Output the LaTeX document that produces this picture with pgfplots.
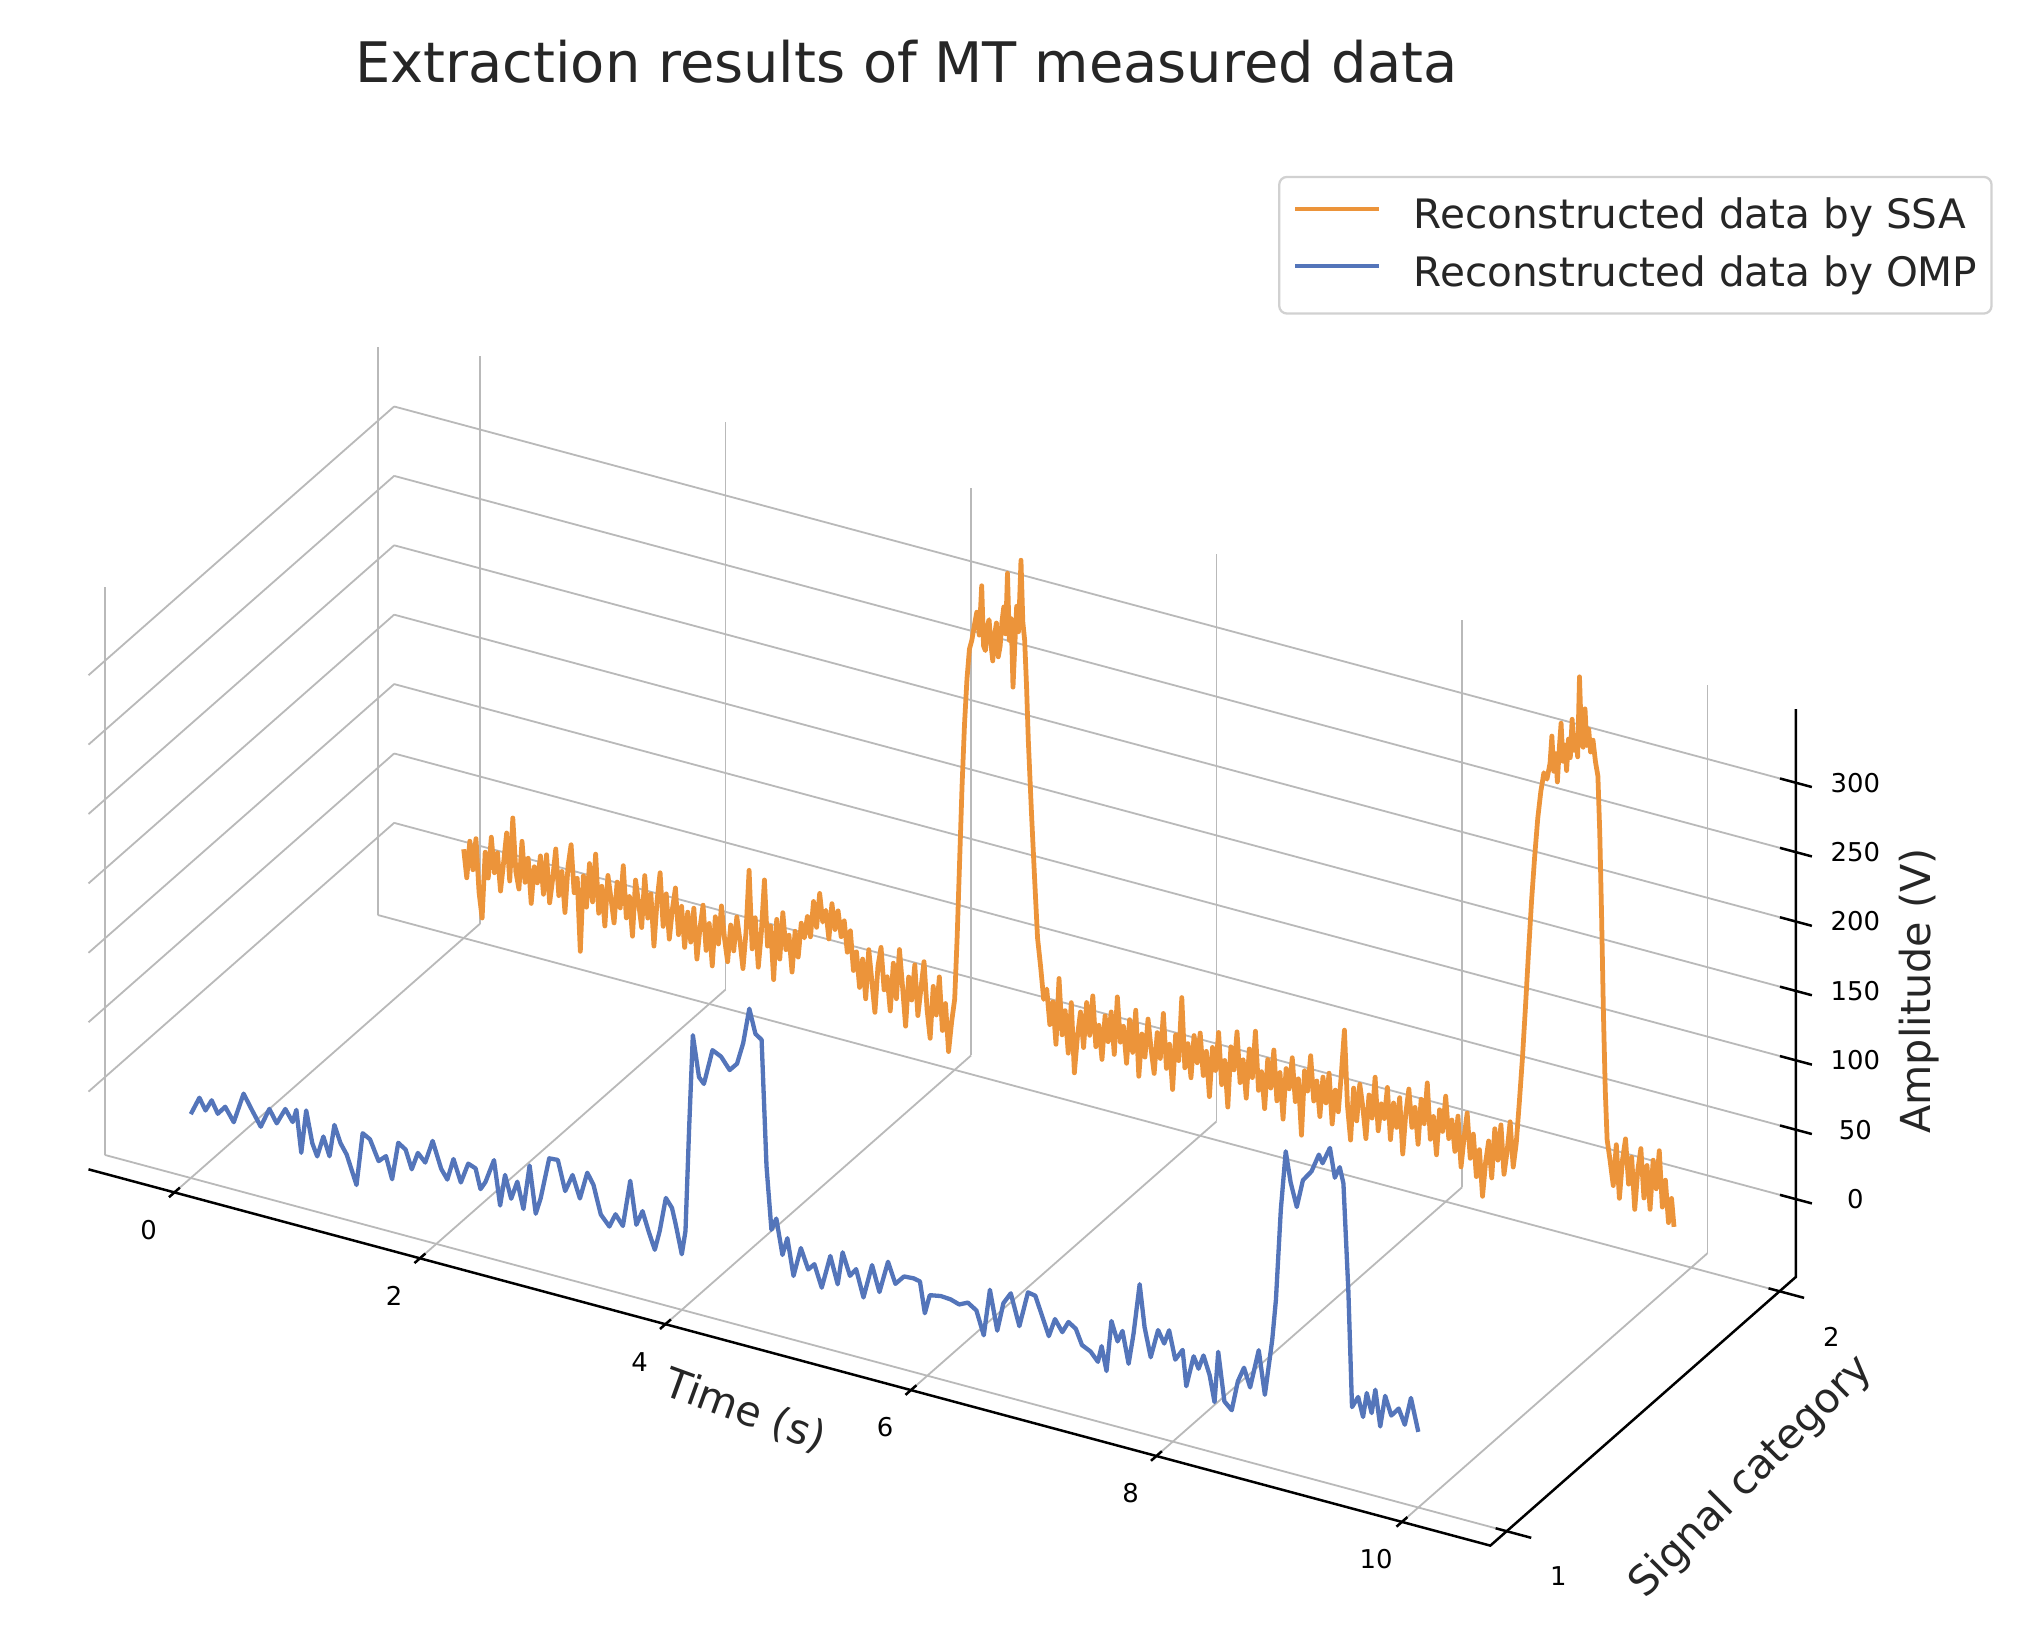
\documentclass[border=0pt]{standalone}
\usepackage{fontspec}
\setmainfont{DejaVu Sans}
\usepackage{pgfplots}
\pgfplotsset{compat=1.18}
\usetikzlibrary{calc}
\definecolor{ssaorange}{RGB}{236,148,58}
\definecolor{ompblue}{RGB}{84,117,186}
\begin{document}
\begin{tikzpicture}
\begin{axis}[
  x={(0.950cm,-0.255cm)}, y={(2.112cm,1.857cm)}, z={(0cm,0.01074cm)},
  xmin=-0.7, xmax=10.72, ymin=0.94, ymax=2.06, zmin=-56, zmax=353,
  clip=false,
  axis line style={draw=none},
  grid=major,
  grid style={gray!55, line width=0.4pt},
  major tick length=0pt,
  xtick={0,2,4,6,8,10}, ytick={1,2}, ztick={0,50,100,150,200,250,300},
  zticklabel pos=right,
  /pgf/number format/assume math mode=true,
  xticklabel style={font=\fontsize{5.7}{7}\selectfont, anchor=center, xshift=-0.20cm, yshift=-0.29cm},
  yticklabel style={font=\fontsize{5.7}{7}\selectfont, anchor=center, xshift=0.40cm, yshift=-0.35cm},
  zticklabel style={font=\fontsize{5.7}{7}\selectfont, anchor=center, xshift=0.46cm, yshift=0cm},
  legend style={at={(rel axis cs:1,1.6437,1.6349)}, anchor=north east,
    draw=black!18, line width=0.5pt, rounded corners=0.06cm, fill=white,
    font=\fontsize{8.93}{10}\selectfont, text=black!85,
    inner xsep=0.11cm, inner ysep=0.16cm, row sep=0.155cm,
    nodes={inner sep=0pt},
    /tikz/every odd column/.append style={column sep=0.25cm}},
  legend cell align=left,
  legend image code/.code={\draw[#1, line width=0.9pt] (0cm,0.06cm) -- (0.65cm,0.06cm);},
]
\addplot3[ssaorange, line width=1.05pt, line join=round, mark=none] coordinates {
(0.000,2,8) (0.025,2,-12) (0.050,2,15) (0.075,2,-5) (0.100,2,18) (0.125,2,-20) (0.150,2,-38) (0.175,2,10) (0.200,2,-8) (0.225,2,22)
(0.250,2,-3) (0.275,2,12) (0.300,2,-15) (0.325,2,6) (0.350,2,28) (0.375,2,-6) (0.400,2,40) (0.425,2,2) (0.450,2,-10) (0.475,2,25)
(0.500,2,-4) (0.525,2,14) (0.550,2,-18) (0.575,2,9) (0.600,2,-2)
(0.625,2,18) (0.650,2,-9) (0.675,2,20) (0.700,2,-14) (0.725,2,4) (0.750,2,26) (0.775,2,-7) (0.800,2,11) (0.825,2,-18) (0.850,2,16)
(0.875,2,32) (0.900,2,-2) (0.925,2,9) (0.950,2,-43) (0.975,2,12) (1.000,2,-10) (1.025,2,22) (1.050,2,-5) (1.075,2,30) (1.100,2,-12)
(1.125,2,8) (1.150,2,-20) (1.175,2,17) (1.200,2,1)
(1.225,2,-16) (1.250,2,14) (1.275,2,-4) (1.300,2,27) (1.325,2,-10) (1.350,2,6) (1.375,2,-22) (1.400,2,19) (1.425,2,3) (1.450,2,-14)
(1.475,2,24) (1.500,2,-6) (1.525,2,12) (1.550,2,-25) (1.575,2,8) (1.600,2,29) (1.625,2,-9) (1.650,2,15) (1.675,2,-17) (1.700,2,5)
(1.725,2,21) (1.750,2,-12) (1.775,2,9) (1.800,2,-20)
(1.825,2,6) (1.850,2,-15) (1.875,2,10) (1.900,2,-26) (1.925,2,-3) (1.950,2,14) (1.975,2,-18) (2.000,2,2) (2.025,2,-28) (2.050,2,8)
(2.075,2,-11) (2.100,2,17) (2.125,2,-6) (2.150,2,-22) (2.175,2,5) (2.200,2,-13) (2.225,2,12) (2.250,2,-4) (2.275,2,-24) (2.300,2,3)
(2.325,2,48) (2.350,2,-8) (2.375,2,15) (2.400,2,-20) (2.425,2,6) (2.450,2,44) (2.475,2,-3) (2.500,2,12) (2.525,2,-26) (2.550,2,18)
(2.575,2,-10) (2.600,2,24) (2.625,2,-2) (2.650,2,9) (2.675,2,-17) (2.700,2,13) (2.725,2,-5) (2.750,2,20)
(2.775,2,10) (2.800,2,26) (2.825,2,12) (2.850,2,38) (2.875,2,20) (2.900,2,45) (2.925,2,25) (2.950,2,34) (2.975,2,14) (3.000,2,40)
(3.025,2,22) (3.050,2,36) (3.075,2,18) (3.100,2,30) (3.125,2,8) (3.150,2,24) (3.175,2,-4)
(3.200,2,10) (3.225,2,-15) (3.250,2,6) (3.275,2,-22) (3.300,2,14) (3.325,2,-8) (3.350,2,-30) (3.375,2,4) (3.400,2,18) (3.425,2,-12)
(3.450,2,-2) (3.475,2,-26) (3.500,2,9) (3.525,2,-16) (3.550,2,20) (3.575,2,-6) (3.600,2,-34) (3.625,2,2) (3.650,2,-14) (3.675,2,12)
(3.700,2,-24) (3.725,2,-4) (3.750,2,16) (3.775,2,-18) (3.800,2,-38) (3.825,2,0) (3.850,2,-20) (3.875,2,8) (3.900,2,-30) (3.925,2,-10)
(3.950,2,-44) (3.975,2,-22)
(4.000,2,-5) (4.020,2,40) (4.040,2,95) (4.060,2,150) (4.080,2,195) (4.100,2,228) (4.120,2,250)
(4.140,2,257) (4.160,2,268) (4.180,2,278) (4.200,2,262) (4.220,2,298) (4.235,2,255) (4.250,2,252) (4.265,2,270) (4.280,2,275) (4.295,2,258)
(4.310,2,246) (4.325,2,265) (4.340,2,274) (4.355,2,250) (4.370,2,258) (4.385,2,276) (4.400,2,287) (4.415,2,268) (4.430,2,312) (4.445,2,264)
(4.460,2,280) (4.475,2,231) (4.490,2,262) (4.505,2,290) (4.520,2,272) (4.540,2,324) (4.555,2,280) (4.570,2,267) (4.585,2,235)
(4.600,2,195) (4.625,2,145) (4.650,2,99) (4.675,2,55) (4.700,2,35) (4.725,2,12)
(4.750,2,20) (4.775,2,-5) (4.800,2,12) (4.825,2,-18) (4.850,2,30) (4.875,2,-10) (4.900,2,8) (4.925,2,-22) (4.950,2,15) (4.975,2,-35)
(5.000,2,-8) (5.025,2,10) (5.050,2,-15) (5.075,2,18) (5.100,2,-5) (5.125,2,24) (5.150,2,-12) (5.175,2,4) (5.200,2,-20) (5.225,2,12)
(5.250,2,-6) (5.275,2,16) (5.300,2,-14) (5.325,2,28) (5.350,2,-4) (5.375,2,8) (5.400,2,-18) (5.425,2,14) (5.450,2,-9) (5.475,2,22)
(5.500,2,-25) (5.525,2,6) (5.550,2,-10) (5.575,2,18) (5.600,2,-3) (5.625,2,-20) (5.650,2,10) (5.675,2,-8) (5.700,2,25) (5.725,2,-14)
(5.750,2,4) (5.775,2,-28) (5.800,2,12) (5.825,2,-6) (5.850,2,40) (5.875,2,-10) (5.900,2,8) (5.925,2,-16) (5.950,2,15)
(5.975,2,-4) (6.000,2,18) (6.025,2,-12) (6.050,2,6) (6.075,2,-26) (6.100,2,10) (6.125,2,-6) (6.150,2,22) (6.175,2,-15) (6.200,2,3)
(6.225,2,-30) (6.250,2,14) (6.275,2,-2) (6.300,2,26) (6.325,2,-10) (6.350,2,7) (6.375,2,-20) (6.400,2,16) (6.425,2,-4) (6.450,2,30)
(6.475,2,-12) (6.500,2,2) (6.525,2,-24) (6.550,2,12) (6.575,2,-8) (6.600,2,20) (6.625,2,-16) (6.650,2,5) (6.675,2,-28) (6.700,2,9)
(6.725,2,-5) (6.750,2,18) (6.775,2,-13) (6.800,2,4) (6.825,2,-36) (6.850,2,11) (6.875,2,-3) (6.900,2,23) (6.925,2,-9) (6.950,2,6)
(6.975,2,-19)
(7.000,2,10) (7.025,2,-8) (7.050,2,14) (7.075,2,-22) (7.100,2,3) (7.125,2,-12) (7.150,2,16) (7.175,2,48) (7.200,2,-6) (7.225,2,-30)
(7.250,2,8) (7.275,2,-15) (7.300,2,12) (7.325,2,-4) (7.350,2,-26) (7.375,2,6) (7.400,2,-10) (7.425,2,20) (7.450,2,-18) (7.475,2,2)
(7.500,2,-8) (7.525,2,15) (7.550,2,-22) (7.575,2,5) (7.600,2,-12) (7.625,2,10) (7.650,2,-30) (7.675,2,0) (7.700,2,18) (7.725,2,-9)
(7.750,2,6) (7.775,2,-20) (7.800,2,13) (7.825,2,-4) (7.850,2,26) (7.875,2,-14) (7.900,2,3) (7.925,2,-24) (7.950,2,9) (7.975,2,-6)
(8.000,2,20) (8.025,2,-10) (8.050,2,4) (8.075,2,-18) (8.100,2,8) (8.125,2,-28) (8.150,2,-6) (8.175,2,12) (8.200,2,-20) (8.225,2,-2)
(8.250,2,-32) (8.275,2,-12) (8.300,2,-45) (8.325,2,-20) (8.350,2,-4) (8.375,2,-30) (8.400,2,6) (8.425,2,-16) (8.450,2,10) (8.475,2,-25)
(8.500,2,-8) (8.525,2,14) (8.550,2,-18)
(8.575,2,0) (8.600,2,30) (8.625,2,62) (8.650,2,100) (8.675,2,140) (8.700,2,178) (8.725,2,210) (8.750,2,238) (8.775,2,258) (8.800,2,272)
(8.825,2,268)
(8.850,2,280) (8.865,2,300) (8.880,2,275) (8.895,2,288) (8.910,2,268) (8.925,2,292) (8.940,2,311) (8.955,2,284) (8.970,2,296) (8.985,2,278)
(9.000,2,301) (9.015,2,288) (9.030,2,316) (9.045,2,294) (9.060,2,305) (9.075,2,290) (9.090,2,348) (9.105,2,306) (9.120,2,298) (9.135,2,326)
(9.150,2,300) (9.165,2,312) (9.180,2,296) (9.200,2,305) (9.220,2,290) (9.240,2,280)
(9.255,2,240) (9.270,2,180) (9.285,2,110) (9.300,2,55) (9.315,2,20)
(9.340,2,5) (9.365,2,-12) (9.390,2,18) (9.415,2,-20) (9.440,2,8) (9.465,2,24) (9.490,2,-8) (9.515,2,12) (9.540,2,-25) (9.565,2,4)
(9.590,2,20) (9.615,2,-15) (9.640,2,9) (9.665,2,-22) (9.690,2,14) (9.715,2,-6) (9.740,2,22) (9.765,2,-18) (9.790,2,2) (9.815,2,-28)
(9.840,2,-10) (9.860,2,-30)
};
\addlegendentry{Reconstructed data by SSA}
\addplot3[ompblue, line width=0.95pt, line join=round, mark=none] coordinates {
(0.00,1,-10) (0.07,1,3.5) (0.12,1,-4.5) (0.17,1,4) (0.22,1,-4.5) (0.28,1,2) (0.35,1,-7.5) (0.43,1,15) (0.50,1,4.5) (0.57,1,-5.5)
(0.64,1,9) (0.70,1,0) (0.77,1,12) (0.83,1,4) (0.86,1,13.5) (0.90,1,-16.5) (0.94,1,15) (0.99,1,-7.5) (1.03,1,-16) (1.08,1,-0.5)
(1.13,1,-13.5) (1.17,1,10) (1.22,1,-2) (1.27,1,-9) (1.35,1,-29) (1.40,1,9.5) (1.46,1,6.5) (1.53,1,-7.5) (1.59,1,-2.5) (1.64,1,-18)
(1.69,1,9.5) (1.75,1,6) (1.80,1,-7) (1.85,1,6) (1.91,1,0.5) (1.97,1,17.5) (2.04,1,-1) (2.09,1,-7.5) (2.14,1,8.5) (2.20,1,-7)
(2.26,1,8) (2.32,1,6) (2.36,1,-8) (2.40,1,-2) (2.47,1,15.5) (2.52,1,-16) (2.56,1,7) (2.61,1,-9) (2.66,1,4.5) (2.71,1,-14)
(2.76,1,18.5) (2.81,1,-15) (2.85,1,-3) (2.92,1,27.5) (2.99,1,28) (3.05,1,7) (3.11,1,20) (3.17,1,4.5) (3.23,1,24.5) (3.28,1,17)
(3.34,1,-3) (3.41,1,-10) (3.46,1,0) (3.52,1,-7) (3.58,1,27) (3.63,1,-3.5) (3.68,1,7.5) (3.73,1,-6) (3.78,1,-18) (3.82,1,-3.5)
(3.87,1,21.5) (3.92,1,15.5) (3.95,1,4.5) (4.00,1,-16) (4.03,1,1.5) (4.06,1,77) (4.09,1,144) (4.14,1,115) (4.18,1,111) (4.25,1,137)
(4.32,1,134) (4.39,1,126) (4.45,1,132) (4.50,1,148) (4.55,1,174) (4.60,1,157) (4.65,1,154) (4.69,1,64) (4.73,1,19) (4.77,1,28)
(4.82,1,3) (4.86,1,16) (4.91,1,-10) (4.97,1,11.5) (5.03,1,-2.5) (5.08,1,2.5) (5.14,1,-13) (5.21,1,11.5) (5.27,1,-7.5) (5.31,1,16.5)
(5.37,1,1) (5.42,1,7) (5.48,1,-12) (5.55,1,13) (5.61,1,-5) (5.68,1,18.5) (5.74,1,4) (5.81,1,11) (5.89,1,11.5) (5.94,1,10.5)
(5.98,1,-11.5) (6.02,1,2.5) (6.11,1,4) (6.19,1,3.5) (6.26,1,1.5) (6.33,1,4.5) (6.40,1,0.5) (6.46,1,-16) (6.51,1,18) (6.57,1,-10)
(6.62,1,11) (6.68,1,19.5) (6.75,1,-2.5) (6.82,1,23.5) (6.88,1,22.5) (6.93,1,10.5) (6.99,1,-4) (7.04,1,9.5) (7.10,1,1.5) (7.15,1,10)
(7.21,1,6.5) (7.26,1,-4) (7.33,1,-7) (7.39,1,-13) (7.42,1,-1) (7.46,1,-18) (7.50,1,19) (7.55,1,5.5) (7.59,1,14) (7.64,1,-8.5)
(7.68,1,14) (7.73,1,51) (7.77,1,21) (7.82,1,0.5) (7.88,1,21.5) (7.93,1,13) (7.97,1,23.5) (8.02,1,3.5) (8.08,1,12) (8.11,1,-13.5)
(8.17,1,9.5) (8.21,1,1.5) (8.25,1,12) (8.30,1,-1) (8.34,1,-19.5) (8.37,1,17.5) (8.42,1,-17) (8.48,1,-22) (8.53,1,0) (8.58,1,11)
(8.63,1,-2) (8.70,1,26.5) (8.75,1,-4.5) (8.81,1,36.5) (8.84,1,66) (8.88,1,132) (8.92,1,175) (8.96,1,153.5) (9.01,1,137) (9.06,1,157.5)
(9.13,1,165.5) (9.19,1,179) (9.22,1,173.5) (9.28,1,186) (9.32,1,165.5) (9.36,1,174) (9.39,1,163) (9.43,1,87) (9.46,1,3.5) (9.51,1,12)
(9.55,1,-1.5) (9.58,1,16.5) (9.62,1,3) (9.65,1,20.5) (9.69,1,-5) (9.73,1,18) (9.78,1,5) (9.84,1,11.5) (9.89,1,1) (9.94,1,21.5)
(10.00,1,-1.5)
};
\addlegendentry{Reconstructed data by OMP}
% axis lines
\draw[black, line width=0.55pt] (axis cs:-0.7,0.94,-56) -- (axis cs:10.72,0.94,-56) -- (axis cs:10.72,2.06,-56) -- (axis cs:10.72,2.06,353);
% tick marks
\pgfplotsinvokeforeach{0,2,4,6,8,10}{\draw[black, line width=0.55pt] (axis cs:#1,0.92,-56) -- (axis cs:#1,0.96,-56);}
\pgfplotsinvokeforeach{1,2}{\draw[black, line width=0.55pt] (axis cs:10.63,#1,-56) -- (axis cs:10.92,#1,-56);}
\pgfplotsinvokeforeach{0,50,100,150,200,250,300}{\draw[black, line width=0.55pt] (axis cs:10.59,2.06,#1) -- (axis cs:10.85,2.06,#1);}
% axis labels
\node[xshift=0.14cm, yshift=-0.544cm, rotate=-20, font=\fontsize{9.1}{11}\selectfont, text=black!85] at (axis cs:4.5,0.94,-56) {Time (s)};
\node[xshift=0.838cm, yshift=-0.508cm, rotate=45, font=\fontsize{9.1}{11}\selectfont, text=black!85] at (axis cs:10.72,1.5,-56) {Signal category};
\node[xshift=0.951cm, rotate=90, font=\fontsize{9.1}{11}\selectfont, text=black!85] at (axis cs:10.72,2.06,150) {Amplitude (V)};
\coordinate (O) at (axis cs:-0.7,0.94,-56);
\end{axis}
\node[anchor=base, font=\fontsize{12.3}{14}\selectfont, text=black!85] at ($(O)+(6.33cm,8.41cm)$) {Extraction results of MT measured data};
\pgfresetboundingbox
\path[use as bounding box] ($(O)+(-0.685cm,-3.57cm)$) rectangle ($(O)+(14.995cm,9.05cm)$);
\end{tikzpicture}
\end{document}
